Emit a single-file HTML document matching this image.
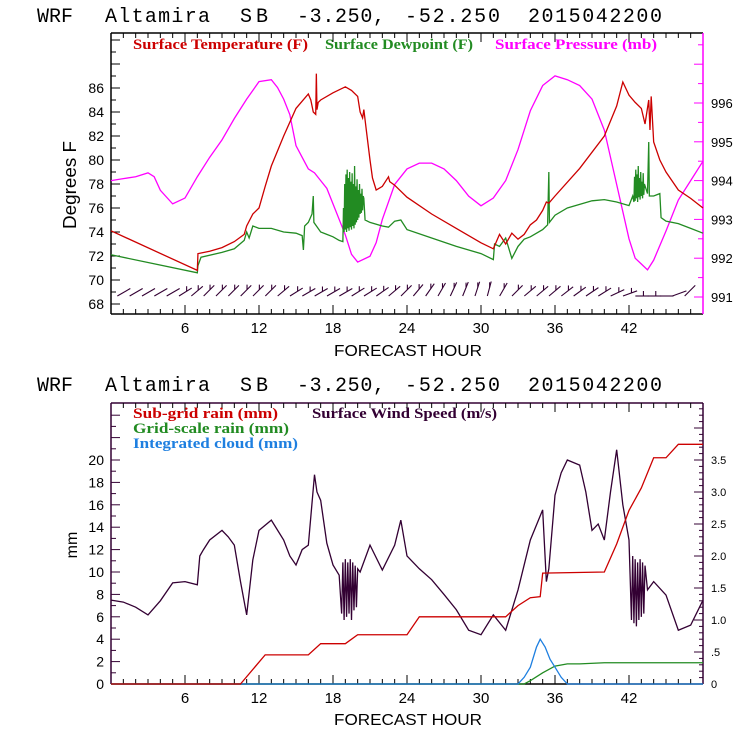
<!DOCTYPE html>
<html><head><meta charset="utf-8"><style>
html,body{margin:0;padding:0;background:#fff;width:740px;height:740px;overflow:hidden}
svg{display:block}
text{font-family:"Liberation Sans",sans-serif}
</style></head><body>
<svg id="chart" width="740" height="740" viewBox="0 0 740 740" xmlns="http://www.w3.org/2000/svg">
<g id="topPanel"></g>
<g id="botPanel"></g>
</svg>
<script>
// ---------- DATA ----------
const xTickLabels = [6,12,18,24,30,36,42];
const tempTickLabels = [68,70,72,74,76,78,80,82,84,86];
const presTickLabels = [991,992,993,994,995,996];
const mmTickLabels = [0,2,4,6,8,10,12,14,16,18,20];
const windTickLabels = ["0",".5","1.0","1.5","2.0","2.5","3.0","3.5"];

const tempSeries = [[0,74.1],[7,70.8],[7.05,72.2],[8,72.4],[9,72.7],[10,73.2],[10.8,73.8],[11,74.5],[11.5,75.5],[12,76.0],[12.5,77.8],[13,79.5],[14,82],[15,84.3],[16,85.5],[16.2,85.0],[16.4,84.0],[16.6,83.8],[16.65,87.2],[16.7,84.2],[16.8,84.8],[17,85.0],[18,85.6],[19,86.1],[19.5,85.8],[20,85.3],[20.2,84],[20.4,83.5],[20.5,84.2],[20.7,82.5],[21,80],[21.2,78.5],[21.5,77.5],[22,77.8],[22.5,78.6],[22.6,78.2],[23,77.9],[24,76.9],[26,75.5],[28,74.3],[30,73.1],[31,72.6],[31.5,73.8],[32,73.0],[32.5,73.9],[33,73.4],[33.5,73.8],[34,74.6],[34.5,75.0],[35,75.8],[35.3,76.5],[35.5,76.4],[36,77.0],[38,79.3],[40,82.0],[41,84.5],[41.5,86.5],[42,85.4],[42.5,84.8],[43,84.3],[43.3,83.0],[43.6,85.0],[43.7,82.5],[43.8,85.3],[44,81.5],[44.5,80.0],[45,79.0],[46,77.5],[47,76.8],[48,76.0]];

const dewSeries = [[0,72.1],[7,70.6],[7.05,71.2],[7.3,71.9],[9,72.3],[10,72.6],[10.8,73.3],[11,74.0],[11.2,73.5],[11.5,74.5],[12,74.3],[13,74.3],[14,74.0],[15,73.9],[15.5,73.7],[15.6,72.5],[15.7,74.5],[16,74.8],[16.3,75.5],[16.4,77.0],[16.45,74.8],[17,74.0],[17.5,73.8],[18,73.6],[18.5,73.3],[18.8,73.2],[18.85,76.0],
[18.9,74.0],[18.95,78.0],[19.0,74.2],[19.05,78.8],[19.1,74.0],[19.15,79.2],[19.2,74.3],[19.25,78.5],[19.3,74.1],[19.35,79.0],[19.4,74.4],[19.45,78.2],[19.5,74.2],[19.55,78.9],[19.6,74.5],[19.65,78.0],[19.7,74.3],[19.75,79.5],[19.8,74.6],[19.85,77.8],[19.9,74.8],[19.95,78.4],[20.0,75.0],[20.05,77.5],[20.1,75.2],[20.15,78.0],[20.2,75.5],[20.25,77.2],[20.3,75.6],[20.35,77.6],[20.4,75.8],[20.45,77.0],
[20.5,76.8],[20.6,75.0],[21,74.8],[22,74.5],[22.5,74.4],[23,74.9],[23.5,75.0],[24,74.2],[26,73.5],[28,72.8],[30,72.2],[31,71.7],[31.1,73.0],[31.5,72.8],[32,73.5],[32.5,71.8],[33,72.8],[33.5,73.4],[34,73.6],[35,74.2],[35.4,74.6],[35.5,79.0],[35.55,74.8],[36,75.4],[37,76.0],[38,76.3],[39,76.6],[40,76.7],[41,76.5],[42,76.2],[42.3,77.0],
[42.4,76.5],[42.45,78.6],[42.5,76.6],[42.55,79.2],[42.6,76.8],[42.65,78.8],[42.7,76.5],[42.75,79.5],[42.8,76.9],[42.85,78.5],[42.9,76.7],[42.95,79.0],[43.0,77.0],[43.05,78.2],[43.1,76.8],[43.15,78.9],[43.2,77.1],[43.25,78.0],
[43.5,77.2],[43.6,81.5],[43.65,77.0],[44,77.0],[44.5,77.2],[44.6,75.2],[45,74.9],[46,74.7],[47,74.3],[48,73.9]];

const presSeries = [[0,994.0],[1,994.05],[2,994.1],[3,994.2],[3.5,994.1],[4,993.75],[5,993.4],[6,993.55],[7,994.1],[8,994.6],[9,995.05],[10,995.6],[11,996.1],[12,996.55],[13,996.6],[13.5,996.4],[14,996.1],[14.5,995.7],[15,994.9],[15.5,994.6],[16,994.3],[16.5,994.2],[17,994.0],[17.5,993.8],[18,993.4],[19,992.6],[19.5,992.1],[20,991.9],[21,992.05],[21.5,992.4],[22,993.0],[23,993.9],[24,994.3],[25,994.45],[26,994.45],[27,994.3],[28,994.0],[29,993.6],[30,993.35],[31,993.55],[32,994.0],[33,994.8],[34,995.8],[35,996.45],[36,996.7],[37,996.6],[38,996.45],[39,996.1],[40,995.3],[41,993.9],[42,992.5],[42.5,992.0],[43,991.85],[43.5,991.7],[44,991.95],[45,992.7],[46,993.5],[47,994.0],[48,994.5]];

const windBarbAngles = [30,30,30,30,30,32,40,45,45,45,45,45,45,40,32,30,30,30,30,32,32,35,40,45,50,55,60,65,68,72,75,60,45,40,40,40,38,36,34,32,25,20,0,0,0,20,45];

const subgridRain = [[0,0],[10.5,0],[12.5,2.6],[16,2.6],[17,3.6],[19,3.6],[20,4.4],[24,4.4],[25,6.0],[32,6.0],[33,7.0],[34,7.7],[34.8,7.8],[35,9.9],[40,10.0],[41,12.5],[42,15.5],[43,17.5],[44,20.2],[45,20.2],[46,21.4],[48,21.4]];
const gridRain = [[0,0],[33.5,0],[34,0.3],[35,1.0],[36,1.6],[37,1.8],[38,1.8],[40,1.9],[48,1.9]];
const cloudSeries = [[0,0],[33,0],[33.5,0.6],[34,1.5],[34.5,3.3],[34.8,4.0],[35.2,3.3],[35.6,2.2],[36,1.5],[36.5,0.6],[37,0],[48,0]];

const windSpeed = [[0,1.31],[1,1.28],[2,1.2],[3,1.08],[4,1.3],[5,1.58],[6,1.6],[7,1.55],[7.2,2.0],[7.5,2.1],[8,2.25],[9,2.4],[9.5,2.3],[10,2.17],[10.5,1.6],[11,1.08],[11.5,1.94],[12,2.4],[13,2.56],[14,2.25],[14.5,2.0],[15,1.86],[15.5,2.1],[16,2.17],[16.5,3.27],[16.7,3.0],[17,2.87],[17.5,2.2],[18,1.86],[18.5,1.7],
[18.7,1.1],[18.8,1.9],[18.9,1.0],[19.0,1.95],[19.1,1.05],[19.2,1.9],[19.3,1.1],[19.4,1.95],[19.5,1.0],[19.6,1.9],[19.7,1.15],[19.8,1.85],[19.9,1.2],[20.0,1.8],
[20.2,1.75],[21,2.17],[22,1.78],[23,2.17],[23.5,2.56],[24,2.0],[25,1.8],[26,1.63],[27,1.4],[28,1.16],[29,0.84],[30,0.77],[31,1.08],[32,0.84],[33,1.47],[34,2.25],[35,2.72],[35.3,1.6],[35.5,1.8],[36,2.95],[36.5,3.3],[37,3.5],[38,3.42],[38.5,3.0],[39,2.4],[39.5,2.5],[40,2.25],[40.5,3.0],[41,3.66],[41.5,2.8],[42,2.25],
[42.2,1.0],[42.3,2.0],[42.4,0.95],[42.5,1.95],[42.6,0.9],[42.7,1.9],[42.8,1.0],[42.9,1.95],[43.0,1.05],[43.1,1.9],[43.2,1.1],[43.3,1.85],
[43.5,1.47],[44,1.6],[45,1.39],[46,0.84],[47,0.92],[48,1.31]];

// ---------- SCALES ----------
const X0 = 111, X1 = 703;
const xs = h => X0 + (h/48)*(X1-X0);
const yT = v => 88 - (v-86)*12.0;
const yP = p => 103 - (p-996)*38.8;
const yMM = v => 684 - v*11.2;
const yW = v => 684 - v*64;

const NS = "http://www.w3.org/2000/svg";
function mk(parent, tag, attrs, txt){
  const e = document.createElementNS(NS, tag);
  for (const k in attrs) e.setAttribute(k, attrs[k]);
  if (txt !== undefined) e.textContent = txt;
  parent.appendChild(e);
  return e;
}
function pathFrom(series, ys){
  return series.map((p,i)=>(i?'L':'M')+xs(p[0]).toFixed(2)+' '+ys(p[1]).toFixed(2)).join(' ');
}

const topG = document.getElementById('topPanel');
const botG = document.getElementById('botPanel');

// ---------- TITLES ----------
const titleWords = [['WRF',37,36],['Altamira',105,105],['SB',240,28],['-3.250,',297,88],['-52.250',405,95],['2015042200',528,134]];
function title(parent, y, name){
  const g = mk(parent,'g',{});
  
  
  titleWords.forEach(w=>{
    mk(g,'text',{x:w[1],y:y,'font-size':20,textLength:w[2],lengthAdjust:'spacing',fill:'#000',style:'font-family:"Liberation Mono",monospace'}, w[0]);
  });
}
title(topG, 22, 'top-chart-title');
title(botG, 391, 'bottom-chart-title');

// ---------- X AXES ----------
function xAxis(parent, yTop, yBot, labelY, titleY, name){
  const g = mk(parent,'g',{});
  
  
  for (let h=1; h<48; h++){
    const len = (h%6===0)?9:5;
    mk(g,'line',{x1:xs(h),x2:xs(h),y1:yBot,y2:yBot-len,stroke:'#000','stroke-width':1});
    mk(g,'line',{x1:xs(h),x2:xs(h),y1:yTop,y2:yTop+len,stroke:'#000','stroke-width':1});
  }
  xTickLabels.forEach(v=>{
    const t = mk(g,'text',{x:xs(v),y:labelY,'text-anchor':'middle','font-size':15,fill:'#000'}, String(v));
    
    
  });
  const tt = mk(g,'text',{x:408,y:titleY,'text-anchor':'middle','font-size':16,fill:'#000',textLength:148,lengthAdjust:'spacingAndGlyphs'}, 'FORECAST HOUR');
  
  
}

// ---------- TOP PANEL ----------
const TT=33, TB=314;
mk(topG,'line',{x1:X0,x2:X1,y1:TT,y2:TT,stroke:'#000','stroke-width':1.5});
mk(topG,'line',{x1:X0,x2:X1,y1:TB,y2:TB,stroke:'#000','stroke-width':1.5});
mk(topG,'line',{x1:X0,x2:X0,y1:TT,y2:TB,stroke:'#000','stroke-width':1.5});
mk(topG,'line',{x1:X1,x2:X1,y1:TT,y2:TB,stroke:'#ff00ff','stroke-width':1.5});
xAxis(topG, TT, TB, 333, 356, 'top-x-axis');

const ly = mk(topG,'g',{});


for (let v=66; v<=91; v++){
  const y=yT(v); if (y<TT+2||y>TB-2) continue;
  mk(ly,'line',{x1:X0,x2:X0+(v%2===0?9:5),y1:y,y2:y,stroke:'#000'});
}
tempTickLabels.forEach(v=>{
  const t = mk(ly,'text',{x:104,y:yT(v)+5,'text-anchor':'end','font-size':14,fill:'#000'}, String(v));
  
  
});
const yt = mk(topG,'text',{x:0,y:0,transform:'translate(76,185) rotate(-90)','text-anchor':'middle','font-size':18,fill:'#000',textLength:88,lengthAdjust:'spacingAndGlyphs'},'Degrees F');



const ry = mk(topG,'g',{});


for (let r=1981; r<=1995; r++){
  const p=r/2, y=yP(p); if (y<TT+2||y>TB-2) continue;
  mk(ry,'line',{x1:X1,x2:X1-(r%2===0?9:5),y1:y,y2:y,stroke:'#ff00ff'});
}
presTickLabels.forEach(v=>{
  const t = mk(ry,'text',{x:711,y:yP(v)+5,'font-size':13,fill:'#000'}, String(v));
  
  
});

function series(parent, data, ys, color, name, w){
  const p = mk(parent,'path',{d:pathFrom(data, ys),fill:'none',stroke:color,'stroke-width':w||1.3,'stroke-linejoin':'miter'});
  
  
}
series(topG, presSeries, yP, '#ff00ff', 'pressure-line');
series(topG, dewSeries, yT, '#228b22', 'dewpoint-line');
series(topG, tempSeries, yT, '#cc0000', 'temperature-line');

// wind barbs
const wb = mk(topG,'g',{});


windBarbAngles.forEach((a,i)=>{
  const h=i+1, bx=xs(h)-6, by=296, L=15;
  const r=a*Math.PI/180;
  const x2 = a===0? bx+L*0.9 : bx+L*Math.cos(r);
  const y2 = a===0? by : by-L*Math.sin(r);
  const b = mk(wb,'g',{});
  
  
  mk(b,'line',{x1:bx,y1:by,x2:x2,y2:y2,stroke:'#330033','stroke-width':1.1});
  if (h>=6 && h<=44){
    const mx = bx+(x2-bx)*0.6, my = by+(y2-by)*0.6;
    mk(b,'line',{x1:mx,y1:my,x2:mx,y2:my-5,stroke:'#330033','stroke-width':1.1});
  }
});

// top legend
[['Surface Temperature (F)',133,175,'#cc0000','legend-temperature'],['Surface Dewpoint (F)',325,148,'#228b22','legend-dewpoint'],['Surface Pressure (mb)',495,162,'#ff00ff','legend-pressure']].forEach(l=>{
  const t = mk(topG,'text',{x:l[1],y:49,'font-size':15,'font-weight':'bold',textLength:l[2],lengthAdjust:'spacingAndGlyphs',fill:l[3],style:'font-family:"Liberation Serif",serif'}, l[0]);
  
  
});

// ---------- BOTTOM PANEL ----------
const BT=403, BB=684;
mk(botG,'line',{x1:X0,x2:X1,y1:BT,y2:BT,stroke:'#330033','stroke-width':1.5});
mk(botG,'line',{x1:X0,x2:X0,y1:BT,y2:BB,stroke:'#330033','stroke-width':1.5});
mk(botG,'line',{x1:X1,x2:X1,y1:BT,y2:BB,stroke:'#330033','stroke-width':1.5});
mk(botG,'line',{x1:X0,x2:X1,y1:BB,y2:BB,stroke:'#000','stroke-width':1.5});
xAxis(botG, BT, BB, 703, 725, 'bottom-x-axis');

const bl = mk(botG,'g',{});


for (let v=1; v<=25; v++){
  if (yMM(v) < BT+2) continue;
  mk(bl,'line',{x1:X0,x2:X0+(v%2===0?9:5),y1:yMM(v),y2:yMM(v),stroke:'#330033'});
}
mmTickLabels.forEach(v=>{
  const t = mk(bl,'text',{x:104,y:yMM(v)+5,'text-anchor':'end','font-size':14,fill:'#000'}, String(v));
  
  
});
const mmT = mk(botG,'text',{x:0,y:0,transform:'translate(77,545) rotate(-90)','text-anchor':'middle','font-size':16,fill:'#000'},'mm');



const br = mk(botG,'g',{});


for (let r=1; r<=43; r++){
  if (yW(r/10) < BT+2) continue;
  mk(br,'line',{x1:X1,x2:X1-(r%5===0?9:4),y1:yW(r/10),y2:yW(r/10),stroke:'#330033'});
}
windTickLabels.forEach((s,i)=>{
  const t = mk(br,'text',{x:711,y:yW(i*0.5)+4,'font-size':11,fill:'#000'}, s);
  
  
});

series(botG, windSpeed, yW, '#330033', 'wind-speed-line', 1.3);
series(botG, gridRain, yMM, '#228b22', 'grid-scale-rain-line');
series(botG, cloudSeries, yMM, '#1e7fe0', 'integrated-cloud-line');
series(botG, subgridRain, yMM, '#cc0000', 'subgrid-rain-line');

[['Sub-grid rain (mm)',133,418,145,'#cc0000','legend-subgrid-rain'],['Surface Wind Speed (m/s)',312,418,185,'#330033','legend-wind-speed'],['Grid-scale rain (mm)',133,433,156,'#228b22','legend-grid-rain'],['Integrated cloud (mm)',133,448,165,'#1e7fe0','legend-integrated-cloud']].forEach(l=>{
  const t = mk(botG,'text',{x:l[1],y:l[2],'font-size':15,'font-weight':'bold',textLength:l[3],lengthAdjust:'spacingAndGlyphs',fill:l[4],style:'font-family:"Liberation Serif",serif'}, l[0]);
  
  
});
</script>
</body></html>
